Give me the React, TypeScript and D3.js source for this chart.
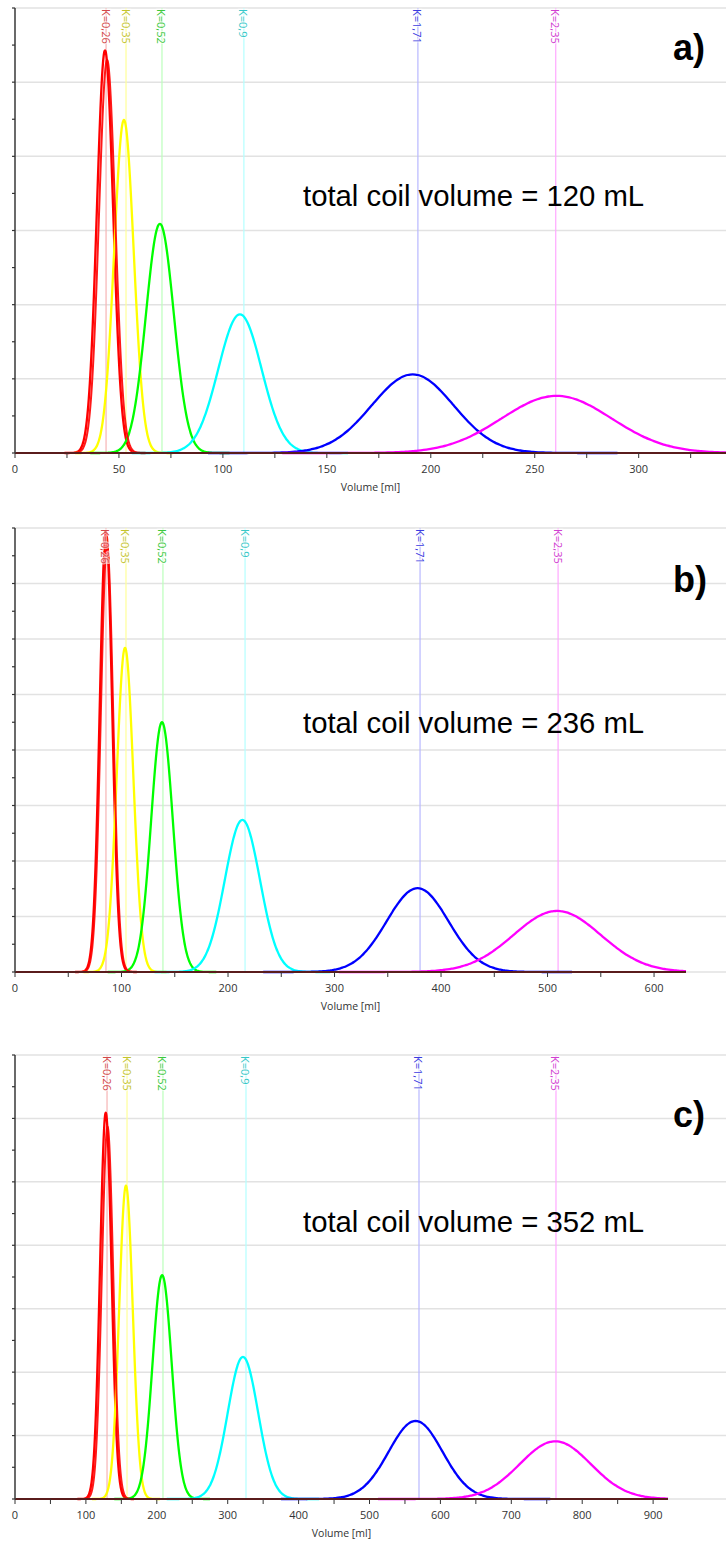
import React from "react";
import * as d3 from "d3";

// ---- data ----
const kLabels = ["K=0,26", "K=0,35", "K=0,52", "K=0,9", "K=1,71", "K=2,35"];
const curveColors = ["#ff0000", "#ffff00", "#00ff00", "#00ffff", "#0000ff", "#ff00ff"];
const kLineColors = ["#f6b4b4", "#ffff99", "#bbffbb", "#b4ffff", "#b8b8ff", "#ffa8ff"];
const kTextColors = ["#d24848", "#c4c42c", "#3cc83c", "#38c8c8", "#3c3ce0", "#d040d0"];

const panelNames = ["a)", "b)", "c)"];
const coilVolumes = ["120", "236", "352"];

// K-marker positions (ml)
const kPosA = [43.8, 53.4, 70.7, 110.1, 193.8, 260.1];
const kPosB = [85.4, 104.2, 138.9, 216.0, 380.3, 509.9];
const kPosC = [129.8, 158.0, 208.7, 325.8, 569.8, 763.0];

// peak centres (ml)
const peakPosA = [43.3, 52.4, 69.7, 108.2, 191.3, 260.5];
const peakPosB = [85.4, 103.3, 138.0, 213.5, 378.0, 509.0];
const peakPosC = [128.0, 156.5, 207.5, 321.5, 565.0, 762.0];

// peak heights (grid units)
const peakHA = [5.43, 4.49, 3.09, 1.87, 1.06, 0.77];
const peakHB = [7.93, 5.84, 4.5, 2.74, 1.51, 1.1];
const peakHC = [6.09, 4.94, 3.53, 2.24, 1.23, 0.91];

// peak widths (sigma, ml)
const peakWA = [3.9, 4.7, 6.7, 10.4, 19.7, 26.4];
const peakWB = [5.8, 7.8, 10.2, 16.5, 29.0, 41.0];
const peakWC = [8.0, 9.6, 13.5, 21.5, 38.0, 50.0];

// second (twin) red trace: centre, height, sigma
const twinRedA = [44.3, 5.3, 3.9];
const twinRedB = [86.4, 7.7, 5.8];
const twinRedC = [130.5, 5.87, 8.0];

// axes
const xMaxes = [342, 630, 921];
const yMaxes = [6, 8, 7];
const xMinorSteps = [25, 50, 50];
const xLabelSteps = [50, 100, 100];

// ---- layout ----
const layouts = [
  { top: 8, bottom: 453, left: 15, right: 726, nameY: 60, coilY: 206 },
  { top: 528, bottom: 972, left: 15, right: 686, nameY: 592, coilY: 733 },
  { top: 1055, bottom: 1499, left: 15, right: 668, nameY: 1127, coilY: 1232 },
];

const kPositions = [kPosA, kPosB, kPosC];
const peakPositions = [peakPosA, peakPosB, peakPosC];
const peakHeights = [peakHA, peakHB, peakHC];
const peakWidths = [peakWA, peakWB, peakWC];
const twins = [twinRedA, twinRedB, twinRedC];

const axisFont = "'Open Sans', 'DejaVu Sans', sans-serif";

function gaussPath(
  x: d3.ScaleLinear<number, number>,
  y: d3.ScaleLinear<number, number>,
  c: number,
  h: number,
  s: number,
  xmax: number
) {
  const lo = Math.max(0, c - 5 * s);
  const hi = Math.min(xmax, c + 5 * s);
  const n = 160;
  const pts: [number, number][] = d3.range(n + 1).map((i) => {
    const v = lo + ((hi - lo) * i) / n;
    return [v, h * Math.exp(-0.5 * ((v - c) / s) ** 2)];
  });
  return d3
    .line<[number, number]>()
    .x((d) => x(d[0]))
    .y((d) => y(d[1]))
    .curve(d3.curveMonotoneX)(pts) as string;
}

function Panel({ idx }: { idx: number }) {
  const L = layouts[idx];
  const xmax = xMaxes[idx];
  const ymax = yMaxes[idx];
  const x = d3.scaleLinear().domain([0, xmax]).range([L.left, L.right]);
  const y = d3.scaleLinear().domain([0, ymax]).range([L.bottom, L.top]);
  const grid = d3.range(0, ymax + 0.001, 1);
  const yTicks = d3.range(0, ymax + 0.001, 0.5);
  const xTicks = d3.range(0, xmax + 0.001, xMinorSteps[idx]);
  const xLabels = d3.range(0, xmax + 0.001, xLabelSteps[idx]);
  const tw = twins[idx];

  return (
    <g>
      {grid.map((g) => (
        <line
          key={"g" + g}
          x1={L.left}
          x2={726}
          y1={y(g)}
          y2={y(g)}
          stroke="#e2e2e2"
          strokeWidth={1.5}
        />
      ))}
      {kPositions[idx].map((k, i) => (
        <line
          key={"k" + i}
          x1={x(k)}
          x2={x(k)}
          y1={L.top}
          y2={L.bottom}
          stroke={kLineColors[i]}
          strokeWidth={1.2}
        />
      ))}
      {peakPositions[idx].map((c, i) => (
        <path
          key={"p" + i}
          d={gaussPath(x, y, c, peakHeights[idx][i], peakWidths[idx][i], xmax)}
          fill="none"
          stroke={curveColors[i]}
          strokeWidth={2.3}
        />
      ))}
      <path
        d={gaussPath(x, y, tw[0], tw[1], tw[2], xmax)}
        fill="none"
        stroke={curveColors[0]}
        strokeWidth={2}
        opacity={0.9}
      />
      {kPositions[idx].map((k, i) => (
        <text
          key={"kt" + i}
          transform={`translate(${x(k)},${L.top + 1}) rotate(90)`}
          fontFamily={axisFont}
          fontSize={11}
          fill={kTextColors[i]}
          dominantBaseline="central"
          stroke="#ffffff"
          strokeWidth={2.5}
          strokeOpacity={0.6}
          paintOrder="stroke"
        >
          {kLabels[i]}
        </text>
      ))}
      <line x1={L.left} x2={L.right} y1={L.bottom} y2={L.bottom} stroke="#5a1c1c" strokeWidth={2.2} />
      {xTicks.map((t) => (
        <line key={"xt" + t} x1={x(t)} x2={x(t)} y1={L.bottom} y2={L.bottom + 5} stroke="#333" strokeWidth={1} />
      ))}
      {xLabels.map((t) => (
        <text
          key={"xl" + t}
          x={x(t)}
          y={L.bottom + 20}
          textAnchor="middle"
          fontFamily={axisFont}
          fontSize={11}
          fill="#333"
        >
          {t}
        </text>
      ))}
      <text
        x={(L.left + L.right) / 2}
        y={L.bottom + 38}
        textAnchor="middle"
        fontFamily={axisFont}
        fontSize={10.5}
        fill="#333"
      >
        Volume [ml]
      </text>
      <line x1={L.left} x2={L.left} y1={L.top} y2={L.bottom} stroke="#444" strokeWidth={1.6} />
      {yTicks.map((t) => (
        <line key={"yt" + t} x1={L.left - 3} x2={L.left} y1={y(t)} y2={y(t)} stroke="#333" strokeWidth={1.2} />
      ))}
      <text
        x={303}
        y={L.coilY}
        fontFamily="'Liberation Sans', Arial, sans-serif"
        fontSize={29.3}
        fill="#000"
      >
        {`total coil volume = ${coilVolumes[idx]} mL`}
      </text>
      <text
        x={673}
        y={L.nameY}
        fontFamily="'Liberation Sans', Arial, sans-serif"
        fontSize={36}
        fontWeight="bold"
        fill="#000"
      >
        {panelNames[idx]}
      </text>
    </g>
  );
}

export default function App() {
  return (
    <svg
      width={726}
      height={1542}
      viewBox="0 0 726 1542"
      style={{ position: "absolute", left: 0, top: 0, background: "#fff" }}
    >
      <rect x={0} y={0} width={726} height={1542} fill="#fff" />
      {[0, 1, 2].map((i) => (
        <Panel key={i} idx={i} />
      ))}
    </svg>
  );
}
